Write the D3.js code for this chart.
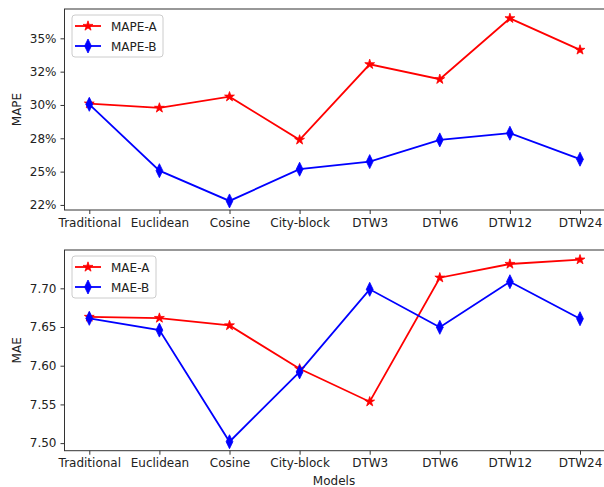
<!DOCTYPE html>
<html lang="en">
<head>
<meta charset="UTF-8">
<title>MAPE and MAE by model</title>
<script src="https://d3js.org/d3.v7.min.js"></script>
<style>
  body { margin: 0; padding: 0; background: #fff; overflow: hidden; }
  svg text { font-family: "DejaVu Sans", sans-serif; }
  .axis text { font-size: 12px; fill: #222; }
  .axis path, .axis line { stroke: #333; }
  .label { font-size: 12px; fill: #222; }
  .legend text { font-size: 12px; fill: #222; }
</style>
</head>
<body>
<svg id="chart" width="604" height="487"></svg>
<script>
// models on the x axis
const models = ["Traditional", "Euclidean", "Cosine", "City-block", "DTW3", "DTW6", "DTW12", "DTW24"];

// top panel (fractions)
const mapeA = [0.301, 0.2978, 0.3062, 0.2738, 0.3305, 0.3193, 0.365, 0.3413];
const mapeB = [0.3005, 0.2507, 0.228, 0.2518, 0.2575, 0.2738, 0.2788, 0.2593];
const mapeTicks = [0.225, 0.25, 0.275, 0.30, 0.325, 0.35];
const mapeTickLabels = ["22%", "25%", "28%", "30%", "32%", "35%"];

// bottom panel
const maeA = [7.663, 7.6616, 7.652, 7.596, 7.5535, 7.7137, 7.7314, 7.737];
const maeB = [7.6612, 7.646, 7.5018, 7.592, 7.6987, 7.6496, 7.7085, 7.6607];
const maeTicks = [7.50, 7.55, 7.60, 7.65, 7.70];
const maeTickLabels = ["7.50", "7.55", "7.60", "7.65", "7.70"];

const svg = d3.select("#chart");
const left = 64.5, right = 604.5;

// matplotlib-like 5% margins on the category axis
const x = d3.scalePoint().domain(models).range([89.3, 580]);

const star = d3.symbol().type(d3.symbolStar).size(30);
const diamond = "M0,-7L3.4,0L0,7L-3.4,0Z";

function panel(cfg) {
  const y = d3.scaleLinear().domain(cfg.domain).range([cfg.bottom, cfg.top]);
  const g = svg.append("g");

  // frame
  g.append("rect")
    .attr("x", left).attr("y", cfg.top)
    .attr("width", right - left).attr("height", cfg.bottom - cfg.top)
    .attr("fill", "none").attr("stroke", "#333").attr("stroke-width", 1);

  g.append("g")
    .attr("class", "axis")
    .attr("transform", `translate(0,${cfg.bottom})`)
    .call(d3.axisBottom(x).tickSize(4).tickPadding(4))
    .call(a => a.select(".domain").remove());

  g.append("g")
    .attr("class", "axis")
    .attr("transform", `translate(${left},0)`)
    .call(d3.axisLeft(y).tickValues(cfg.ticks)
      .tickFormat((d, i) => cfg.labels[i]).tickSize(4).tickPadding(4))
    .call(a => a.select(".domain").remove());

  g.append("text")
    .attr("class", "label")
    .attr("transform", `translate(21,${(cfg.top + cfg.bottom) / 2}) rotate(-90)`)
    .attr("text-anchor", "middle")
    .text(cfg.ylabel);

  const line = d3.line().x((d, i) => x(models[i])).y(d => y(d));

  cfg.series.forEach(s => {
    g.append("path")
      .datum(s.values)
      .attr("fill", "none")
      .attr("stroke", s.color)
      .attr("stroke-width", 1.8)
      .attr("d", line);
    g.selectAll(null)
      .data(s.values)
      .enter()
      .append("path")
      .attr("transform", (d, i) => `translate(${x(models[i])},${y(d)})`)
      .attr("d", s.marker)
      .attr("fill", s.color)
      .attr("stroke", s.color)
      .attr("stroke-width", 0.8);
  });

  // legend
  const lg = g.append("g").attr("class", "legend");
  lg.append("rect")
    .attr("x", cfg.legend.x).attr("y", cfg.legend.y)
    .attr("width", cfg.legend.w).attr("height", 42)
    .attr("rx", 3)
    .attr("fill", "#fff").attr("fill-opacity", 0.8)
    .attr("stroke", "#ccc");
  cfg.series.forEach((s, i) => {
    const ly = cfg.legend.y + 11 + i * 20;
    lg.append("line")
      .attr("x1", cfg.legend.x + 3).attr("x2", cfg.legend.x + 29)
      .attr("y1", ly).attr("y2", ly)
      .attr("stroke", s.color).attr("stroke-width", 1.8);
    lg.append("path")
      .attr("transform", `translate(${cfg.legend.x + 16},${ly})`)
      .attr("d", s.marker)
      .attr("fill", s.color).attr("stroke", s.color).attr("stroke-width", 0.8);
    lg.append("text")
      .attr("x", cfg.legend.x + 39).attr("y", ly + 4.5)
      .text(s.name);
  });
}

panel({
  top: 9, bottom: 210,
  domain: [0.2212, 0.3720],
  ticks: mapeTicks,
  labels: mapeTickLabels,
  ylabel: "MAPE",
  legend: { x: 72, y: 15, w: 91 },
  series: [
    { name: "MAPE-A", values: mapeA, color: "#ff0000", marker: star },
    { name: "MAPE-B", values: mapeB, color: "#0000ff", marker: diamond }
  ]
});

panel({
  top: 250, bottom: 450.7,
  domain: [7.4902, 7.7495],
  ticks: maeTicks,
  labels: maeTickLabels,
  ylabel: "MAE",
  legend: { x: 72, y: 256, w: 84 },
  series: [
    { name: "MAE-A", values: maeA, color: "#ff0000", marker: star },
    { name: "MAE-B", values: maeB, color: "#0000ff", marker: diamond }
  ]
});

svg.append("text")
  .attr("class", "label")
  .attr("x", 334).attr("y", 485)
  .attr("text-anchor", "middle")
  .text("Models");
</script>
</body>
</html>
